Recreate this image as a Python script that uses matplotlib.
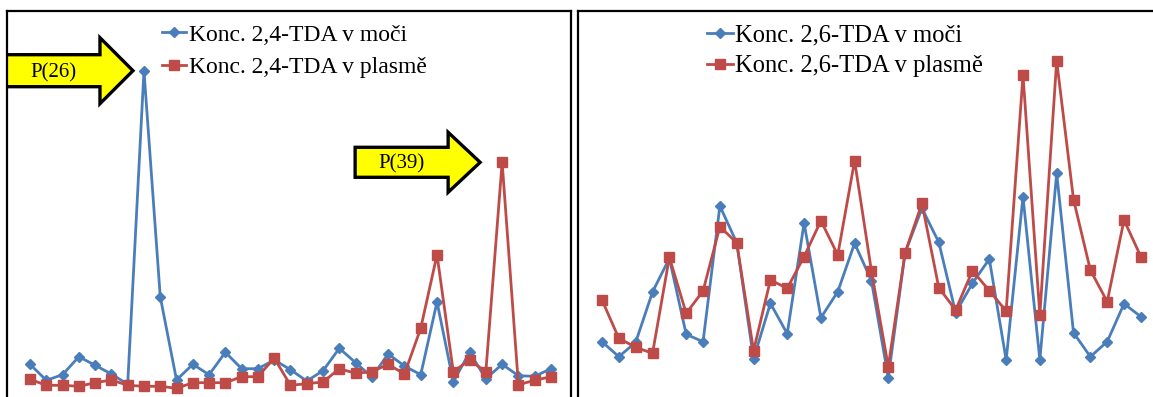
import matplotlib
matplotlib.use("Agg")
import matplotlib.pyplot as plt
from matplotlib.patches import Polygon
from matplotlib.transforms import Affine2D

plt.rcParams['font.family'] = ['Liberation Serif', 'DejaVu Serif']

# sample number 1..33 (relative concentrations)
samples = list(range(1, 34))

tda24_urine = [32.7, 16.7, 22.3, 40.3, 31.7, 23.0, 12.7, 326.3, 100.3, 17.0, 32.7,
               22.3, 44.7, 28.3, 28.3, 37.0, 27.3, 16.0, 26.3, 48.7, 34.3, 20.0,
               43.0, 31.0, 22.3, 95.0, 15.3, 44.7, 18.3, 32.7, 21.3, 20.7, 28.3]
tda24_plasma = [17.7, 11.7, 11.7, 10.7, 14.3, 17.0, 11.7, 10.7, 10.7, 8.7, 14.3,
                14.3, 14.3, 20.3, 20.3, 39.0, 11.7, 13.3, 15.0, 28.3, 23.7, 25.3,
                32.7, 23.0, 68.7, 142.3, 25.3, 37.0, 25.3, 234.7, 12.3, 16.7, 20.3]

tda26_urine = [55.3, 40.3, 54.7, 105.0, 138.7, 62.7, 55.3, 191.0, 154.3, 38.0, 93.7,
               63.3, 174.0, 79.3, 105.3, 153.7, 116.3, 19.3, 144.3, 188.7, 154.7, 84.3,
               113.7, 138.0, 37.0, 200.3, 37.0, 223.7, 64.3, 40.3, 55.3, 93.3, 80.3]
tda26_plasma = [97.0, 58.7, 49.7, 43.7, 139.7, 83.7, 106.0, 170.3, 154.3, 46.3, 117.0,
                108.7, 140.3, 176.3, 142.0, 236.3, 126.0, 30.3, 144.3, 193.7, 109.3, 87.0,
                126.3, 106.3, 86.0, 322.0, 82.0, 336.3, 197.5, 127.0, 95.3, 177.0, 140.3]

# highlighted outliers: (label, sample index, series)
peaks = [("P(26)", 8, tda24_urine), ("P(39)", 30, tda24_plasma)]

BLUE = '#4a7ebb'
RED = '#be4b48'
W, H = 1153, 397

fig = plt.figure(figsize=(W / 100, H / 100), dpi=100)
ax1 = fig.add_axes([7 / W, 0, (571 - 7) / W, 1 - 11 / H])
ax2 = fig.add_axes([578 / W, 0, (W - 578) / W, 1 - 11 / H])


def draw(ax, urine, plasma, name, xlim, leg_x, fs, spacing):
    ax.plot(samples, urine, color=BLUE, lw=2, marker='D', ms=5.5,
            label=f'Konc. {name} v moči', clip_on=False)
    ax.plot(samples, plasma, color=RED, lw=2, marker='s', ms=7,
            label=f'Konc. {name} v plasmě', clip_on=False)
    ax.set_xlim(*xlim)
    ax.set_ylim(0, 386)
    ax.set_xticks([])
    ax.set_yticks([])
    ax.spines['bottom'].set_visible(False)
    for s in ('top', 'left', 'right'):
        ax.spines[s].set_linewidth(1.6)
    ax.legend(loc='upper left', bbox_to_anchor=(leg_x, 0.972), frameon=False,
              fontsize=fs, handlelength=1.05, handletextpad=0.1,
              labelspacing=spacing, borderpad=0.1, borderaxespad=0)


draw(ax1, tda24_urine, tda24_plasma, '2,4-TDA', (-0.413, 34.23), 0.27, 17, 0.45)
draw(ax2, tda26_urine, tda26_plasma, '2,6-TDA', (-0.425, 33.72), 0.22, 17.7, 0.35)
ax2.spines['right'].set_visible(False)

# yellow arrows pointing at the outliers (pixel offsets from the arrow tip)
arrow_shapes = {
    "P(26)": dict(gap=11, body=140, head=33, bh=16, hh=33),
    "P(39)": dict(gap=22, body=93, head=32, bh=15, hh=30),
}
fig.canvas.draw()
for label, idx, series in peaks:
    a = arrow_shapes[label]
    px, py = ax1.transData.transform((idx, series[idx - 1]))
    tx = px - a['gap']
    verts = [(0, 0), (-a['head'], a['hh']), (-a['head'], a['bh']),
             (-a['head'] - a['body'], a['bh']), (-a['head'] - a['body'], -a['bh']),
             (-a['head'], -a['bh']), (-a['head'], -a['hh'])]
    arrow = Polygon(verts, closed=True, facecolor='#ffff00', edgecolor='black',
                    lw=2.4, joinstyle='miter',
                    transform=Affine2D().translate(tx, py))
    ax1.add_patch(arrow)
    arrow.set_clip_path(ax1.patch)
    cx = tx - a['head'] - min(a['body'], tx - a['head'] - ax1.bbox.x0) / 2
    ax1.text(cx, py - 2, label, transform=None, ha='center', va='center',
             fontsize=15, color='black')

fig.savefig('out.png', dpi=100)
